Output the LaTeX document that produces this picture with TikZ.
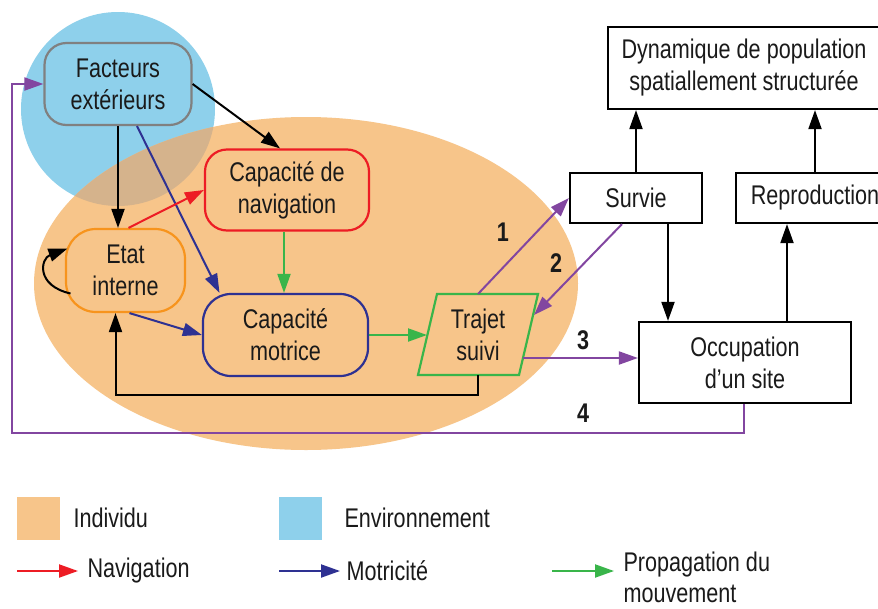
\documentclass[tikz,border=0pt]{standalone}
\usepackage{fontspec}
\setmainfont{Liberation Sans}[FakeStretch=0.8]
\usetikzlibrary{arrows.meta,calc}
\definecolor{envblue}{HTML}{8ED0EB}
\definecolor{indorange}{HTML}{F7C58A}
\definecolor{overlapc}{HTML}{D5B38C}
\definecolor{cred}{HTML}{ED1C24}
\definecolor{cblue}{HTML}{2E3192}
\definecolor{cgreen}{HTML}{39B54A}
\definecolor{corange}{HTML}{F7941D}
\definecolor{cpurple}{HTML}{8246A0}
\definecolor{cgray}{HTML}{808080}
\definecolor{ink}{HTML}{1A1A1A}
\begin{document}
\begin{tikzpicture}[x=1pt,y=-1pt,
  every node/.style={font=\fontsize{27}{32}\selectfont, text=ink},
  rbox/.style={draw, line width=2.2pt, rounded corners=22pt, align=center, inner sep=0pt},
  sbox/.style={draw=black, line width=2.2pt, align=center, inner sep=0pt},
  arr/.style={line width=2pt, -{Triangle[length=19pt,width=13pt]}},
  blk/.style={arr, draw=black},
  redarr/.style={arr, draw=cred},
  bluearr/.style={arr, draw=cblue},
  greenarr/.style={arr, draw=cgreen},
  purparr/.style={arr, draw=cpurple},
  num/.style={font=\fontsize{27}{32}\selectfont\bfseries},
  legtext/.style={anchor=west, align=left}
]
\useasboundingbox (0,0) rectangle (878,608);
\fill[white] (0,0) rectangle (878,608);

% regions
\fill[envblue] (118,109) circle [radius=97pt];
\fill[indorange] (306,283.5) ellipse [x radius=272pt, y radius=166.5pt];
\begin{scope}
  \clip (306,283.5) ellipse [x radius=272pt, y radius=166.5pt];
  \fill[overlapc] (118,109) circle [radius=97pt];
\end{scope}

% nodes
\node[rbox, draw=cgray, fill=envblue, minimum width=147pt, minimum height=82pt] (fac) at (118,84) {Facteurs\\extérieurs};
\node[rbox, draw=cred, minimum width=164pt, minimum height=81pt] (nav) at (287,190) {Capacité de\\navigation};
\node[rbox, draw=corange, rounded corners=30pt, minimum width=119pt, minimum height=83pt] (etat) at (125.5,270.5) {Etat\\interne};
\node[rbox, draw=cblue, rounded corners=28pt, minimum width=165pt, minimum height=82pt] (mot) at (285.5,335) {Capacité\\motrice};

\coordinate (ttl) at (437,294);
\coordinate (ttr) at (538,294);
\coordinate (tbr) at (519,375);
\coordinate (tbl) at (418,375);
\draw[cgreen, line width=2.2pt, line join=miter] (ttl) -- (ttr) -- (tbr) -- (tbl) -- cycle;
\node[align=center, inner sep=0pt] (traj) at (478,335) {Trajet\\suivi};
\coordinate (ttop) at (478,294);
\coordinate (tbot) at (478,375);
\coordinate (tleft) at (427,335);
\coordinate (tright2) at (534,315);
\coordinate (tright3) at (523,358);

\node[sbox, minimum width=272pt, minimum height=82pt] (dyn) at (744,68) {Dynamique de population\\spatiallement structurée};
\node[sbox, minimum width=132pt, minimum height=50pt] (surv) at (636,198) {Survie};
\node[sbox, minimum width=158pt, minimum height=50pt] (rep) at (815,198) {Reproduction};
\node[sbox, minimum width=212pt, minimum height=81pt] (occ) at (745,362.5) {Occupation\\d’un site};

% left connectors
\draw[blk] (fac.south) -- (fac.south |- etat.north);
\draw[blk] (fac.east) -- ([xshift=-7pt]nav.north);
\draw[bluearr] ([xshift=19pt]fac.south) -- ([xshift=-66pt]mot.north);
\draw[redarr] ([xshift=3pt]etat.north) -- (nav.west);
\draw[greenarr] ([xshift=-3pt]nav.south) -- ([xshift=-1.5pt]mot.north);
\draw[bluearr] ([xshift=4pt]etat.south) -- (mot.west);
\draw[greenarr] (mot.east) -- (tleft);
\draw[blk] (tbot) -- ++(0,20) -| ([xshift=-10pt]etat.south);
\draw[blk] ($(etat.center)+(-55,23)$) .. controls ($(etat.center)+(-90,15)$) and ($(etat.center)+(-85,-12)$) .. ($(etat.center)+(-58,-22)$);

% right connectors
\draw[blk] (surv.north) -- (surv.north |- dyn.south);
\draw[blk] (rep.north) -- (rep.north |- dyn.south);
\draw[blk] ([xshift=32pt]surv.south) -- ([xshift=32pt]surv.south |- occ.north);
\draw[blk] (occ.north -| rep.south) ++(-28pt,0) -- ([xshift=-28pt]rep.south);
\draw[purparr] (ttop) -- (surv.west);
\draw[purparr] ([xshift=-14pt]surv.south) -- (tright2);
\draw[purparr] (tright3) -- (tright3 -| occ.west);
\coordinate (fb) at (12,433);
\draw[purparr] ([xshift=-1pt]occ.south) |- (fb) |- (fac.west);

\node[num] (n1) at (503,232) {1};
\node[num] (n2) at (556,263) {2};
\node[num] (n3) at (583,340) {3};
\node[num] (n4) at (583,413) {4};

% legend
\fill[indorange] (17,497) rectangle (60,540);
\node[legtext] (lind) at (70,518) {Individu};
\fill[envblue] (279,497) rectangle (322,540);
\node[legtext] (lenv) at (341,518) {Environnement};

\coordinate (lr1) at (17,571);
\coordinate (lr2) at (78,571);
\draw[redarr] (lr1) -- (lr2);
\node[legtext] (lnav) at (84,571) {Navigation};
\coordinate (lb1) at (279,571);
\coordinate (lb2) at (340,571);
\draw[bluearr] (lb1) -- (lb2);
\node[legtext] (lmot) at (343,571) {Motricité};
\coordinate (lg1) at (552,571);
\coordinate (lg2) at (614,571);
\draw[greenarr] (lg1) -- (lg2);
\node[legtext, font=\fontsize{27}{31}\selectfont] (lprop) at (620,577) {Propagation du\\mouvement};
\end{tikzpicture}
\end{document}
